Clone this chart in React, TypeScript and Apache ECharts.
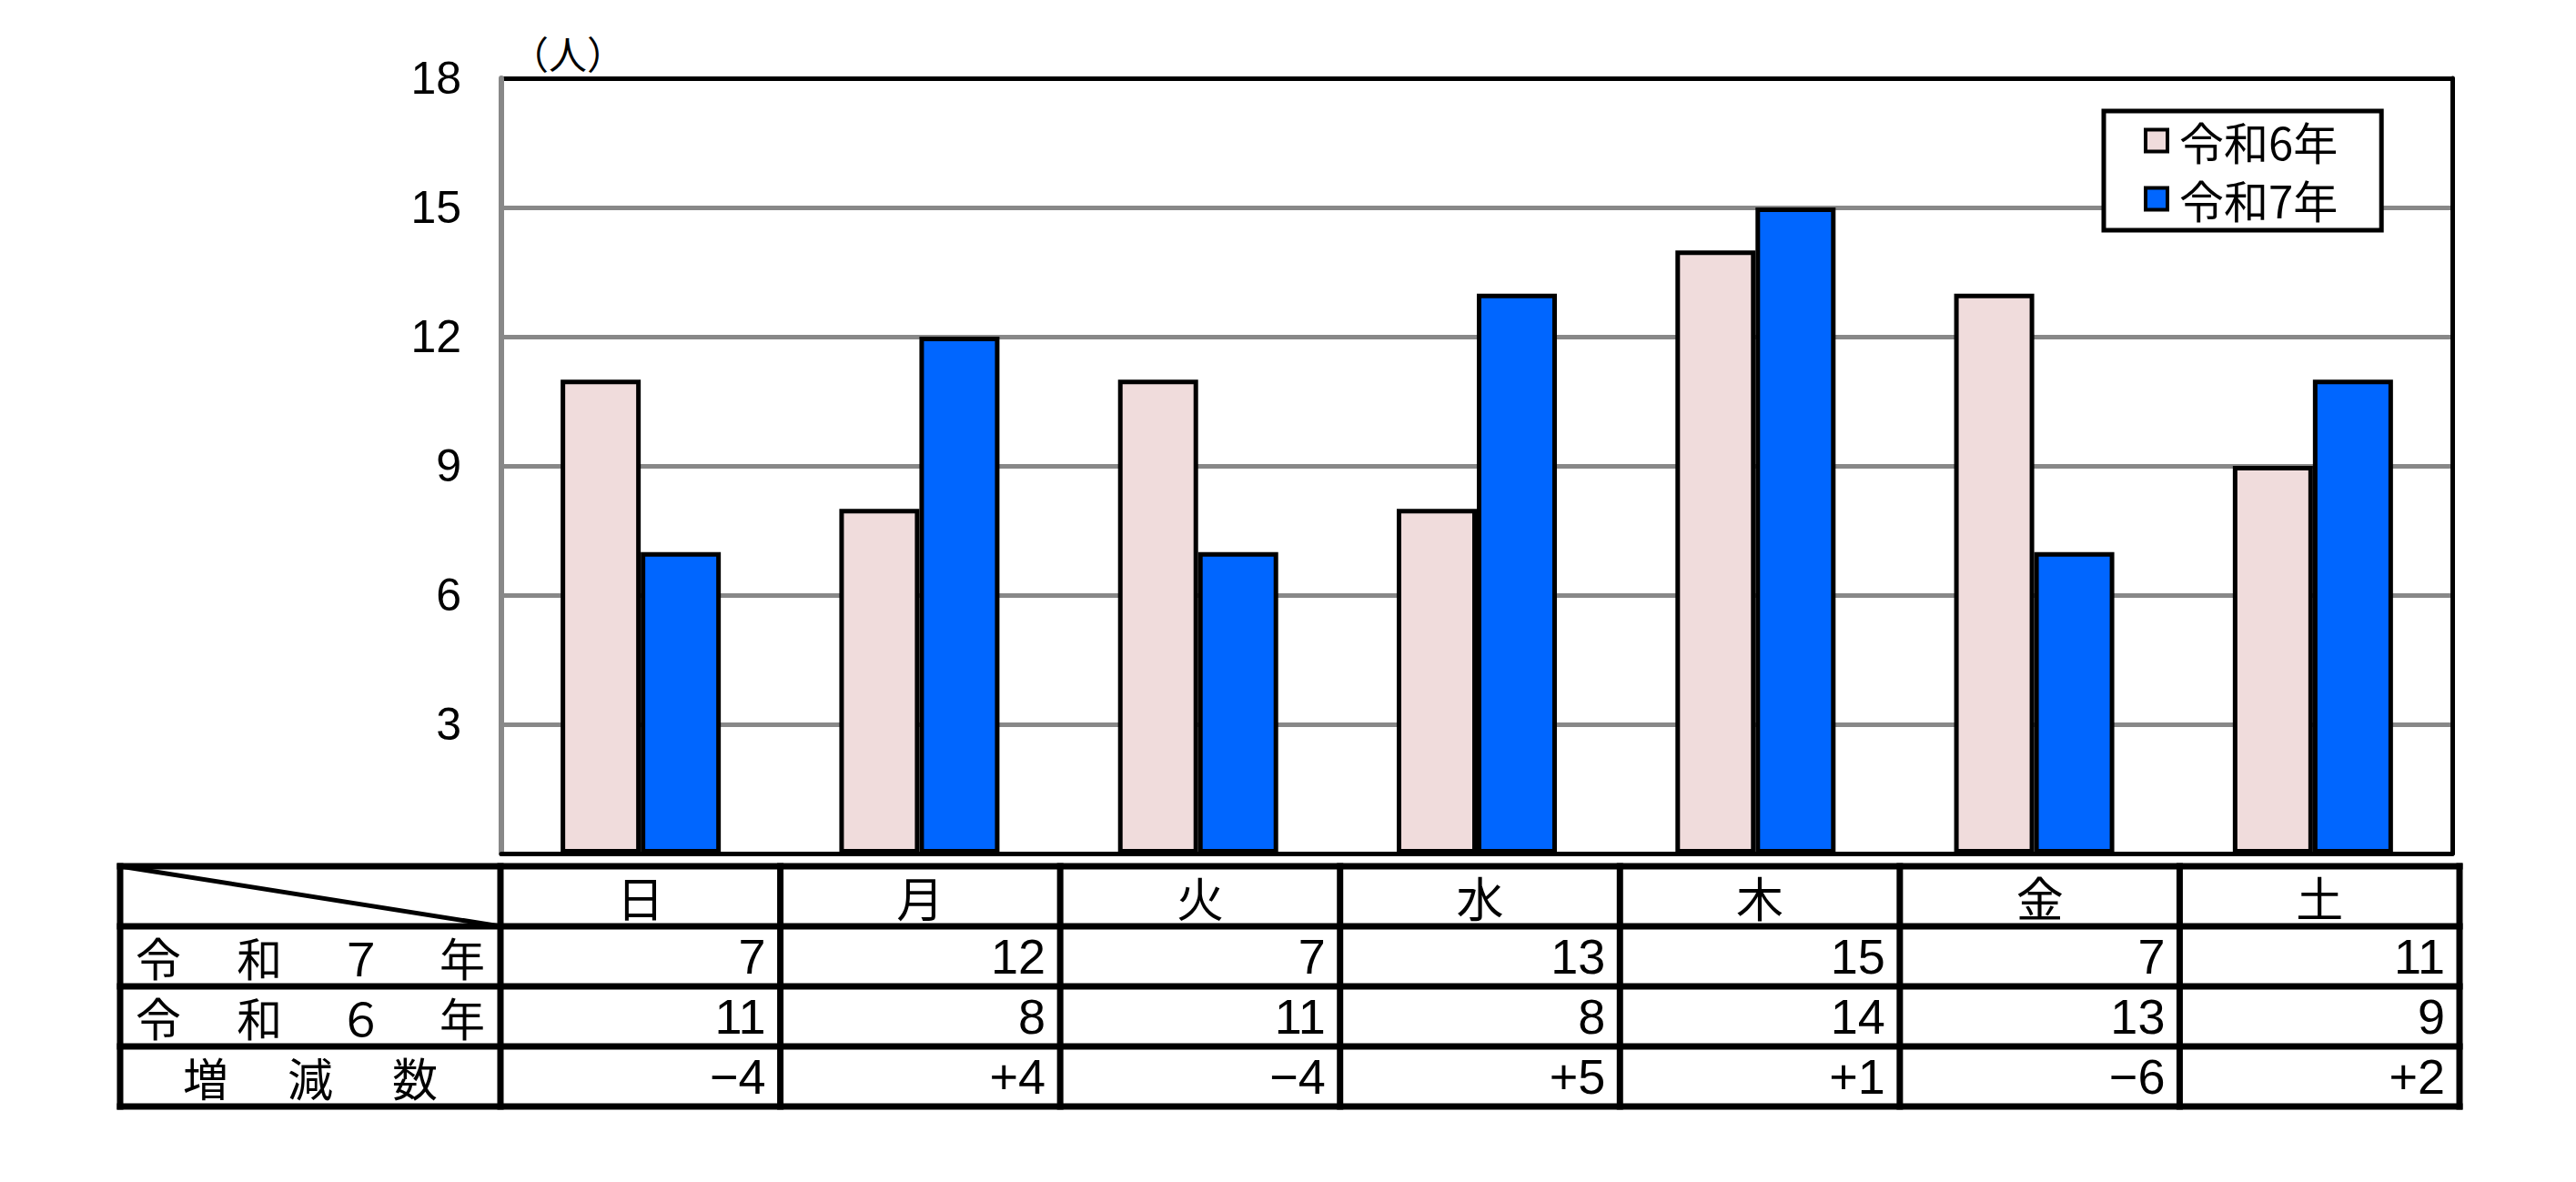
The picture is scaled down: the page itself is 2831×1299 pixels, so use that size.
import React, { useEffect, useRef } from "react";
import * as echarts from "echarts";

// 曜日別の人数 (令和6年 / 令和7年)
const DAYS = ["日", "月", "火", "水", "木", "金", "土"];
const SERIES_NAMES = ["令和6年", "令和7年"];
const R6_VALUES = [11, 8, 11, 8, 14, 13, 9];
const R7_VALUES = [7, 12, 7, 13, 15, 7, 11];
const CHANGES = [-4, 4, -4, 5, 1, -6, 2];
// 表の行見出し (均等割付け)
const ROW_LABELS = ["令和７年", "令和６年", "増減数"];
const Y_MIN = 0;
const Y_MAX = 18;
const Y_STEP = 3;

const W = 2831;
const H = 1299;
const GRID = { left: 551, top: 86, width: 2144, height: 852 };
const TABLE = { left: 132, labelRight: 550, right: 2703, rows: [952, 1018, 1084, 1150, 1216] };

const FONT_CJK = '"Noto Sans CJK JP", "Noto Sans CJK SC", sans-serif';
const FONT_NUM = '"Liberation Sans", Arial, sans-serif';

const fmtChange = (v: number) => (v > 0 ? `+${v}` : v < 0 ? `\u2212${Math.abs(v)}` : "0");

// 下の表 (graphic で描く)
function buildTable() {
  const els: any[] = [];
  const colW = (TABLE.right - TABLE.labelRight) / DAYS.length;
  const rows = TABLE.rows;
  const top = rows[0];
  const bottom = rows[rows.length - 1];
  const line = (x1: number, y1: number, x2: number, y2: number, w = 7, cap = "square") => ({
    type: "line",
    silent: true,
    shape: { x1, y1, x2, y2 },
    style: { stroke: "#000", lineWidth: w, lineCap: cap },
  });

  rows.forEach((y) => els.push(line(TABLE.left, y, TABLE.right, y)));
  els.push(line(TABLE.left, top, TABLE.left, bottom));
  for (let i = 0; i <= DAYS.length; i++) {
    const x = TABLE.labelRight + i * colW;
    els.push(line(x, top, x, bottom));
  }
  // 斜線
  els.push(line(TABLE.left, top, TABLE.labelRight, rows[1], 5, "butt"));

  // 曜日
  DAYS.forEach((d, i) => {
    els.push({
      type: "text",
      silent: true,
      x: TABLE.labelRight + (i + 0.5) * colW,
      y: (rows[0] + rows[1]) / 2,
      style: { text: d, fontSize: 52, fontFamily: FONT_CJK, fill: "#000", align: "center", verticalAlign: "middle" },
    });
  });

  const rowValues = [R7_VALUES.map(String), R6_VALUES.map(String), CHANGES.map(fmtChange)];
  rowValues.forEach((vals, r) => {
    const cy = (rows[r + 1] + rows[r + 2]) / 2;
    vals.forEach((v, i) => {
      els.push({
        type: "text",
        silent: true,
        x: TABLE.labelRight + (i + 1) * colW - 16,
        y: cy,
        style: { text: v, fontSize: 54, fontFamily: FONT_NUM, fill: "#000", align: "right", verticalAlign: "middle" },
      });
    });

    // 行見出しを一文字ずつ均等に並べる
    const chars = Array.from(ROW_LABELS[r]);
    const inset = chars.length >= 4 ? 42 : 94;
    const x0 = TABLE.left + inset;
    const x1 = TABLE.labelRight - inset;
    chars.forEach((c, k) => {
      els.push({
        type: "text",
        silent: true,
        x: x0 + (k * (x1 - x0)) / (chars.length - 1),
        y: cy,
        style: { text: c, fontSize: 50, fontFamily: FONT_CJK, fill: "#000", align: "center", verticalAlign: "middle" },
      });
    });
  });
  return els;
}

const App: React.FC = () => {
  const ref = useRef<HTMLDivElement>(null);

  useEffect(() => {
    if (!ref.current) return;
    const chart = echarts.init(ref.current, null, { renderer: "svg" });
    const nLines = (Y_MAX - Y_MIN) / Y_STEP + 1;
    const splitColors = Array.from({ length: nLines }, (_, i) => (i === 0 || i === nLines - 1 ? "#000" : "#888888"));

    chart.setOption({
      animation: false,
      backgroundColor: "#fff",
      grid: { ...GRID, containLabel: false },
      legend: {
        left: 2312,
        top: 122,
        orient: "vertical",
        data: SERIES_NAMES,
        icon: "rect",
        itemWidth: 24,
        itemHeight: 24,
        itemGap: 15,
        itemStyle: { borderColor: "#000", borderWidth: 4 },
        textStyle: { fontSize: 49, fontFamily: FONT_CJK, color: "#000", padding: [0, 0, 0, 8] },
        borderColor: "#000",
        borderWidth: 5,
        backgroundColor: "#fff",
        padding: [8, 48, 10, 44],
      },
      xAxis: {
        type: "category",
        data: DAYS,
        axisLine: { show: true, lineStyle: { color: "#000", width: 5 } },
        axisTick: { show: false },
        axisLabel: { show: false },
        splitLine: { show: false },
      },
      yAxis: [
        {
          type: "value",
          position: "left",
          min: Y_MIN,
          max: Y_MAX,
          interval: Y_STEP,
          name: "（人）",
          nameLocation: "end",
          nameGap: 8,
          nameTextStyle: {
            fontSize: 42,
            fontFamily: FONT_CJK,
            color: "#000",
            align: "left",
            verticalAlign: "bottom",
            padding: [0, 0, 0, 10],
          },
          axisLine: { show: true, lineStyle: { color: "#888888", width: 6 } },
          axisTick: { show: false },
          axisLabel: {
            margin: 44,
            fontSize: 50,
            fontFamily: FONT_NUM,
            color: "#000",
            formatter: (v: number) => (v === 0 ? "" : String(v)),
          },
          splitLine: { show: true, lineStyle: { color: splitColors, width: 5 } },
        },
        {
          type: "value",
          position: "right",
          min: Y_MIN,
          max: Y_MAX,
          interval: Y_STEP,
          axisLine: { show: true, lineStyle: { color: "#000", width: 5 } },
          axisTick: { show: false },
          axisLabel: { show: false },
          splitLine: { show: false },
        },
      ],
      series: [
        {
          name: SERIES_NAMES[0],
          type: "bar",
          data: R6_VALUES,
          barWidth: 88,
          barGap: "0%",
          itemStyle: { color: "#F0DCDC", borderColor: "#000", borderWidth: 5 },
        },
        {
          name: SERIES_NAMES[1],
          type: "bar",
          data: R7_VALUES,
          barWidth: 88,
          barGap: "0%",
          itemStyle: { color: "#0066FF", borderColor: "#000", borderWidth: 5 },
        },
      ],
      graphic: buildTable(),
    });

    return () => chart.dispose();
  }, []);

  return (
    <div
      ref={ref}
      style={{ position: "absolute", left: 0, top: 0, width: W, height: H, background: "#fff" }}
    />
  );
};

export default App;
